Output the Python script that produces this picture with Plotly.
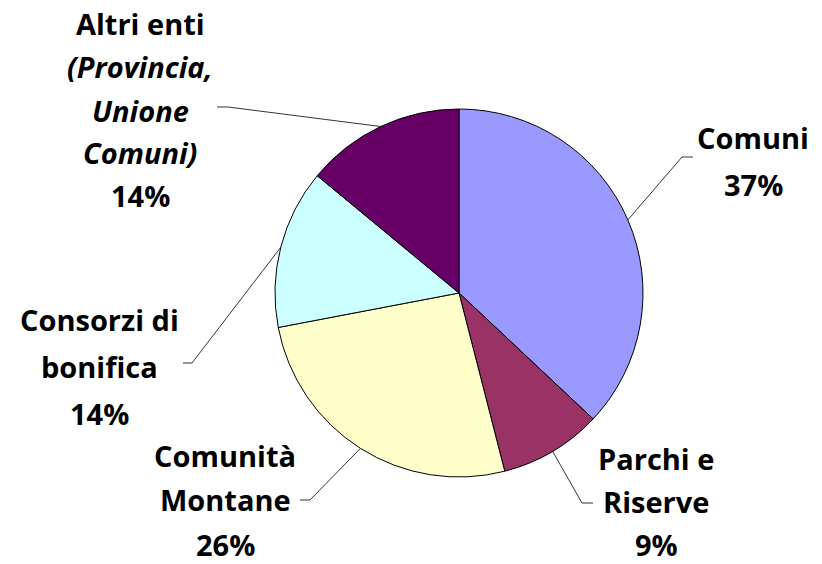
import math
import plotly.graph_objects as go

W, H = 822, 564

categories = ["Comuni", "Parchi e Riserve", "Comunità Montane", "Consorzi di bonifica", "Altri enti"]
values = [37, 9, 26, 14, 14]
colors = ["#9999FF", "#993366", "#FFFFCC", "#CCFFFF", "#660066"]

# label lines (text) per category
label_lines = [
    ["Comuni", "37%"],
    ["Parchi e", "Riserve", "9%"],
    ["Comunità", "Montane", "26%"],
    ["Consorzi di", "bonifica", "14%"],
    ["Altri enti", "<i>(Provincia,</i>", "<i>Unione</i>", "<i>Comuni)</i>", "14%"],
]

# layout settings (pixels)
CX, CY, R = 459, 293, 184
label_pos = [(753, 137, 47), (656, 458, 43), (225, 456, 44), (99, 319, 47), (140, 24, 43)]
elbows = [[(682, 157), (693, 157)],
          [(582, 503), (593, 503)],
          [(310, 500), (300, 500)],
          [(192, 363), (183, 363)],
          [(228, 107), (217, 107)]]

def px(x):
    return x / W

def py(y):
    return 1 - y / H

fig = go.Figure(go.Pie(
    labels=categories, values=values, sort=False, direction="clockwise", rotation=0,
    marker=dict(colors=colors, line=dict(color="black", width=1)),
    textinfo="none", hoverinfo="label+percent", showlegend=False,
    domain=dict(x=[px(CX - R), px(CX + R)], y=[py(CY + R), py(CY - R)]),
))

total = sum(values)
cum = 0
shapes = []
annotations = []
for i, v in enumerate(values):
    mid = (cum + v / 2) / total * 2 * math.pi
    cum += v
    ex, ey = CX + R * math.sin(mid), CY - R * math.cos(mid)
    pts = [(ex, ey)] + elbows[i]
    for (x0, y0), (x1, y1) in zip(pts[:-1], pts[1:]):
        shapes.append(dict(type="line", xref="paper", yref="paper",
                           x0=px(x0), y0=py(y0), x1=px(x1), y1=py(y1),
                           line=dict(color="black", width=0.8)))
    lx, ly, sp = label_pos[i]
    for j, t in enumerate(label_lines[i]):
        annotations.append(dict(text=f"<b>{t}</b>", xref="paper", yref="paper",
                                x=px(lx), y=py(ly + j * sp), xanchor="center", yanchor="middle",
                                showarrow=False, font=dict(family="Open Sans", size=29, color="black")))

fig.update_layout(width=W, height=H, margin=dict(l=0, r=0, t=0, b=0),
                  paper_bgcolor="white", plot_bgcolor="white",
                  shapes=shapes, annotations=annotations)
fig.write_html("out.html", config={"displayModeBar": False},
               post_script="document.body.style.margin='0';document.body.style.overflow='hidden';")
